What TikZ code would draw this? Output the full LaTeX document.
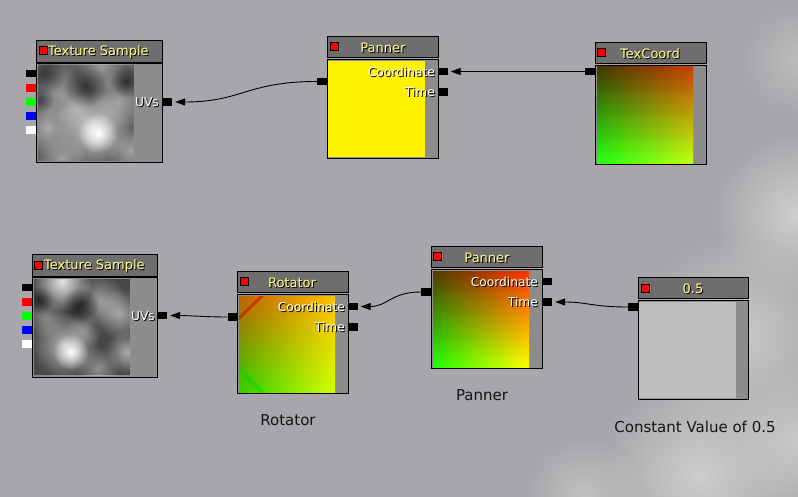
\documentclass[tikz,border=0pt]{standalone}
\usepackage{fontspec}
\setmainfont{DejaVu Sans}
\usetikzlibrary{arrows.meta,fadings}
\definecolor{bg}{HTML}{A8A6AA}
\definecolor{bglight}{HTML}{D2D2D2}
\definecolor{titlegray}{HTML}{6E6E6E}
\definecolor{stripgray}{HTML}{8C8C8C}
\definecolor{constgray}{HTML}{BEBEBE}
\definecolor{ttext}{HTML}{FFFF8C}
\definecolor{captext}{HTML}{141414}
\definecolor{tcTL}{HTML}{403400}
\definecolor{tcTR}{HTML}{C83C00}
\definecolor{tcBL}{HTML}{20FF10}
\definecolor{tcBR}{HTML}{C0FF10}
\definecolor{pTL}{HTML}{503800}
\definecolor{pTR}{HTML}{FF3000}
\definecolor{pBL}{HTML}{20FF00}
\definecolor{pBR}{HTML}{FFFF00}
\definecolor{rTL}{HTML}{C06000}
\definecolor{rTR}{HTML}{FFC000}
\definecolor{rBL}{HTML}{30D000}
\definecolor{rBR}{HTML}{D4FF00}
\tikzfading[name=softblob, inner color=transparent!0, outer color=transparent!100]
\newcommand{\shd}[2]{\leavevmode\rlap{\hspace{1pt}\raisebox{-1pt}{\color{black}#2}}\textcolor{#1}{#2}}
% bilinear gradient: x1 y1 x2 y2 TL TR BL BR
\newcommand{\bilin}[8]{%
  \foreach \i in {0,...,47} {%
    \pgfmathsetmacro{\ya}{#2+(#4-#2)*\i/48}%
    \pgfmathsetmacro{\yb}{#2+(#4-#2)*(\i+1)/48+0.4}%
    \pgfmathtruncatemacro{\pp}{100-100*(\i+0.5)/48}%
    \fill[left color=#5!\pp!#7, right color=#6!\pp!#8] (#1,\ya) rectangle (#3,\yb);
  }%
}
\tikzset{
  frame/.style={draw=black, line width=1pt, inner sep=0pt, anchor=north west, rectangle},
  titlebar/.style={frame, fill=titlegray, minimum height=22pt},
  bodybox/.style={frame, fill=stripgray, minimum height=99pt},
  port/.style={fill=black, inner sep=0pt, minimum width=10pt, minimum height=7.5pt, rectangle},
  icon/.style={fill=red, draw=black, line width=1pt, inner sep=0pt, minimum size=8pt, rectangle},
  titletext/.style={font=\fontsize{13}{13}\selectfont, inner sep=0pt},
  portlabel/.style={font=\fontsize{12.2}{12}\selectfont, inner sep=0pt, anchor=east},
  caption/.style={font=\fontsize{15}{15}\selectfont, text=captext, inner sep=0pt},
  wire/.style={draw=black, line width=0.9pt, -{Triangle[length=10pt,width=7pt]}, shorten >=3pt},
  blob/.style={path fading=softblob},
}
\begin{document}
\begin{tikzpicture}[x=1pt,y=-1pt]
\useasboundingbox (0,0) rectangle (798,497);
\fill[bg] (0,0) rectangle (798,497);
% background cloudy blobs
\fill[bglight, blob, opacity=0.9] (795,215) circle (80);
\fill[bglight, blob, opacity=0.8] (740,335) circle (100);
\fill[bglight, blob, opacity=0.9] (700,475) circle (100);
\fill[bglight, blob, opacity=0.8] (798,440) circle (80);
\fill[bglight, blob, opacity=0.6] (585,497) circle (60);
\fill[bglight, blob, opacity=0.5] (798,60) circle (55);

% ================= Top Texture Sample =================
\node[titlebar, minimum width=126pt] (ts1t) at (36,40) {};
\node[icon] (ts1i) at (43,51) {};
\node[titletext, anchor=west] (ts1tt) at (48,52) {\shd{ttext}{Texture Sample}};
\node[bodybox, minimum width=126pt] (ts1) at (36,63) {};
\begin{scope}
\clip (38,65) rectangle (134,161);
\fill[black!62] (38,65) rectangle (134,161);
\fill[white, blob, opacity=0.35] (60,95) circle (30);
\fill[white, blob, opacity=0.4] (118,102) circle (30);
\fill[white, blob, opacity=0.35] (100,66) circle (26);
\fill[white, blob, opacity=0.45] (48,128) circle (28);
\fill[white, blob, opacity=0.4] (62,158) circle (24);
\fill[white, blob, opacity=0.4] (130,150) circle (24);
\fill[white, blob, opacity=0.3] (75,110) circle (20);
\fill[white, blob, opacity=0.7] (92,128) circle (38);
\fill[white, blob, opacity=1] (98,133) circle (20);
\fill[black, blob, opacity=0.5] (85,85) circle (22);
\fill[black, blob, opacity=0.6] (126,82) circle (16);
\fill[black, blob, opacity=0.45] (45,74) circle (20);
\fill[black, blob, opacity=0.4] (40,100) circle (14);
\end{scope}
\node[port] (ts1a) at (31,73.5) {};
\node[port, fill=red] (ts1r) at (31,88) {};
\node[port, fill=green] (ts1g) at (31,102) {};
\node[port, fill=blue] (ts1b) at (31,116) {};
\node[port, fill=white] (ts1w) at (31,130) {};
\node[port] (ts1uv) at (167,102) {};
\node[portlabel] (ts1uvl) at (159,102.5) {\shd{white}{UVs}};

% ================= Top Panner =================
\node[titlebar, minimum width=111pt, minimum height=21pt] (p1t) at (327,36) {};
\node[icon] (p1i) at (334.5,47) {};
\node[titletext] (p1tt) at (383,48) {\shd{ttext}{Panner}};
\node[bodybox, minimum width=111pt] (p1) at (327,59) {};
\fill[yellow] (328,61) rectangle (425,157);
\node[port] (p1co) at (442.5,71.5) {};
\node[port] (p1ti) at (442.5,92) {};
\node[port] (p1in) at (322,81.5) {};
\node[portlabel] (p1col) at (435,72.5) {\shd{white}{Coordinate}};
\node[portlabel] (p1til) at (435,92.5) {\shd{white}{Time}};

% ================= TexCoord =================
\node[titlebar, minimum width=111pt, minimum height=21pt] (tct) at (595,42) {};
\node[icon] (tci) at (601.5,52.5) {};
\node[titletext] (tctt) at (650,54) {\shd{ttext}{TexCoord}};
\node[bodybox, minimum width=111pt] (tc) at (595,65) {};
\bilin{597}{67}{693}{163}{tcTL}{tcTR}{tcBL}{tcBR}
\node[port] (tcin) at (590,71.5) {};

% ================= Bottom Texture Sample =================
\node[titlebar, minimum width=125pt] (ts2t) at (32,254) {};
\node[icon] (ts2i) at (38.5,265.5) {};
\node[titletext, anchor=west] (ts2tt) at (44,266) {\shd{ttext}{Texture Sample}};
\node[bodybox, minimum width=125pt, minimum height=100pt] (ts2) at (32,277) {};
\begin{scope}
\clip (34,279) rectangle (130,375);
\fill[black!72] (34,279) rectangle (130,375);
\fill[white, blob, opacity=0.85] (62,282) circle (30);
\fill[white, blob, opacity=0.45] (100,300) circle (26);
\fill[white, blob, opacity=0.5] (120,314) circle (26);
\fill[white, blob, opacity=0.35] (45,318) circle (20);
\fill[white, blob, opacity=0.3] (84,330) circle (18);
\fill[white, blob, opacity=0.55] (127,352) circle (22);
\fill[white, blob, opacity=0.4] (98,368) circle (22);
\fill[white, blob, opacity=0.6] (65,345) circle (34);
\fill[white, blob, opacity=1] (71,352) circle (18);
\fill[black, blob, opacity=0.6] (80,305) circle (18);
\fill[black, blob, opacity=0.5] (40,300) circle (14);
\end{scope}
\node[port] (ts2a) at (27,287.5) {};
\node[port, fill=red] (ts2r) at (27,302) {};
\node[port, fill=green] (ts2g) at (27,316) {};
\node[port, fill=blue] (ts2b) at (27,330) {};
\node[port, fill=white] (ts2w) at (27,344) {};
\node[port] (ts2uv) at (162,315.5) {};
\node[portlabel] (ts2uvl) at (155,316.5) {\shd{white}{UVs}};

% ================= Rotator =================
\node[titlebar, minimum width=111pt, minimum height=21pt] (rt) at (237,271) {};
\node[icon] (ri) at (244.5,281.5) {};
\node[titletext] (rtt) at (292,283) {\shd{ttext}{Rotator}};
\node[bodybox, minimum width=111pt] (rot) at (237,294) {};
\begin{scope}
\clip (239,296) rectangle (335,392);
\bilin{239}{296}{335}{392}{rTL}{rTR}{rBL}{rBR}
\draw[red!85!black, line width=3pt, opacity=0.55] (236,321) -- (265,293);
\draw[green!85!black, line width=5pt, opacity=0.5] (236,366) -- (264,394);
\end{scope}
\node[port] (rco) at (352.5,306.5) {};
\node[port] (rti) at (352.5,327) {};
\node[port] (rin) at (232.5,317) {};
\node[portlabel] (rcol) at (345,307.5) {\shd{white}{Coordinate}};
\node[portlabel] (rtil) at (345,327.5) {\shd{white}{Time}};

% ================= Bottom Panner =================
\node[titlebar, minimum width=111pt, minimum height=21pt] (p2t) at (431,246) {};
\node[icon] (p2i) at (437.5,257) {};
\node[titletext] (p2tt) at (487,258) {\shd{ttext}{Panner}};
\node[bodybox, minimum width=111pt] (p2) at (431,269) {};
\bilin{433}{271}{529}{367}{pTL}{pTR}{pBL}{pBR}
\node[port] (p2co) at (547,281.5) {};
\node[port] (p2ti) at (547,302) {};
\node[port] (p2in) at (426,292) {};
\node[portlabel] (p2col) at (538,282.5) {\shd{white}{Coordinate}};
\node[portlabel] (p2til) at (538,302.5) {\shd{white}{Time}};

% ================= Constant =================
\node[titlebar, minimum width=110pt, minimum height=21pt] (ct) at (638,277) {};
\node[icon] (ci) at (645,288) {};
\node[titletext] (ctt) at (693,289) {\shd{ttext}{0.5}};
\node[bodybox, minimum width=110pt] (cst) at (638,300) {};
\fill[constgray] (639,302) rectangle (736,398);
\node[port] (cin) at (633,307) {};

% ================= Wires =================
\draw[wire] (tcin.west) -- (p1co.east);
\draw[wire] (p1in.west) .. controls +(-70,0) and +(70,0) .. (ts1uv.east);
\draw[wire] (rin.west) .. controls +(-20,0) and +(20,0) .. (ts2uv.east);
\draw[wire] (p2in.west) .. controls +(-30,0) and +(30,0) .. (rco.east);
\draw[wire] (cin.west) .. controls +(-35,0) and +(35,0) .. (p2ti.east);

% ================= Captions =================
\node[caption] (capr) at (288,420) {Rotator};
\node[caption] (capp) at (482,395) {Panner};
\node[caption] (capc) at (695,427) {Constant Value of 0.5};
\end{tikzpicture}
\end{document}
